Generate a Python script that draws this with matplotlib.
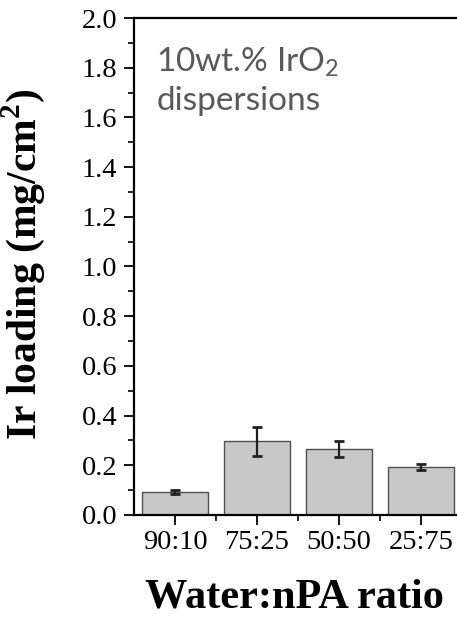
import numpy as np
import matplotlib
matplotlib.use("Agg")
import matplotlib.pyplot as plt
from matplotlib.ticker import MultipleLocator, FixedLocator, FormatStrFormatter

# 数据
ratios = ["90:10", "75:25", "50:50", "25:75"]
ir_loading = [0.092, 0.296, 0.266, 0.193]
ir_error = [0.008, 0.057, 0.032, 0.013]


def draw():
    plt.rcParams['font.family'] = ['Liberation Serif', 'DejaVu Serif']
    plt.rcParams['mathtext.fontset'] = 'custom'
    plt.rcParams['mathtext.rm'] = 'Liberation Serif'

    fig = plt.figure(figsize=(4.57, 6.17), dpi=100)
    # 右边框在图片外面（原图被裁剪）
    ax = fig.add_axes([134 / 457, 102 / 617, 328 / 457, 497 / 617])

    x = np.arange(1, len(ratios) + 1)
    ax.bar(x, ir_loading, width=0.8, color='#c8c8c8', edgecolor='#505050', linewidth=1.0)
    ax.errorbar(x, ir_loading, yerr=ir_error, fmt='none', ecolor='#202020',
                elinewidth=1.6, capsize=3.5, capthick=2.0)

    ax.set_xlim(0.5, 4.5)
    ax.set_ylim(0, 2.0)

    ax.yaxis.set_major_locator(MultipleLocator(0.2))
    ax.yaxis.set_minor_locator(MultipleLocator(0.1))
    ax.yaxis.set_major_formatter(FormatStrFormatter('%.1f'))
    ax.set_xticks(x)
    ax.set_xticklabels(ratios)
    ax.xaxis.set_minor_locator(FixedLocator([1.5, 2.5, 3.5]))

    ax.tick_params(axis='both', which='major', direction='out', length=7, width=1.3,
                   labelsize=20.5, color='black')
    ax.tick_params(axis='y', which='major', pad=5)
    ax.tick_params(axis='x', which='major', pad=4)
    ax.tick_params(axis='both', which='minor', direction='out', length=4, width=1.2)
    ax.tick_params(top=False, right=False, which='both')

    for side in ['left', 'bottom', 'top', 'right']:
        ax.spines[side].set_linewidth(1.6)

    ax.set_ylabel(r'Ir loading (mg/cm$^\mathregular{2}$)', fontsize=30, fontweight='bold')
    ax.yaxis.set_label_coords(-0.265, 0.505)
    ax.set_xlabel('Water:nPA ratio', fontsize=30.5, fontweight='bold')
    ax.xaxis.set_label_coords(0.49, -0.128)

    ax.text(0.068, 0.945, '10wt.% IrO$_\\mathregular{2}$\ndispersions', transform=ax.transAxes,
            ha='left', va='top', fontsize=24, color='#595959', family=['Lato', 'DejaVu Sans'],
            linespacing=1.3)

    fig.savefig('out.png', dpi=100)


if __name__ == '__main__':
    draw()
